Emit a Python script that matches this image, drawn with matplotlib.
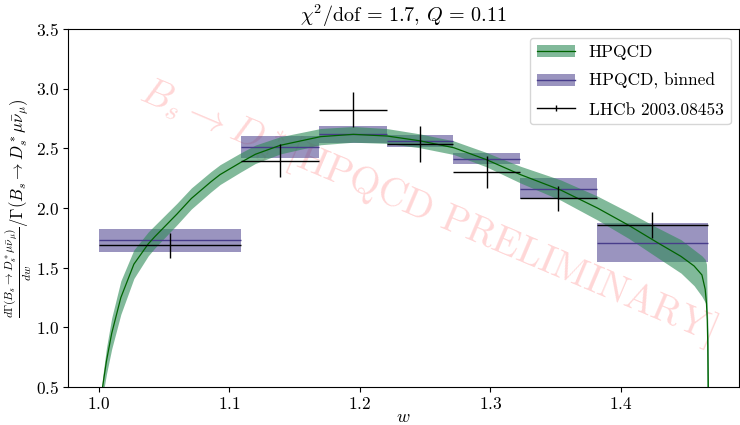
import matplotlib
matplotlib.use("Agg")
import matplotlib.pyplot as plt
from matplotlib.patches import Patch
from matplotlib.lines import Line2D
import numpy as np

plt.rcParams["font.family"] = "serif"
plt.rcParams["font.serif"] = ["cmr10"]
plt.rcParams["mathtext.fontset"] = "cm"
plt.rcParams["axes.formatter.use_mathtext"] = True
plt.rcParams["axes.unicode_minus"] = False

# HPQCD continuous prediction
w_fit = [1.0000, 1.0010, 1.0030, 1.0060, 1.0100, 1.0170, 1.0270, 1.0380, 1.0430,
         1.0600, 1.0710, 1.0860, 1.0930, 1.1085, 1.1200, 1.1390, 1.1700, 1.1950,
         1.2210, 1.2460, 1.2720, 1.2970, 1.3230, 1.3540, 1.3820, 1.4060, 1.4280,
         1.4460, 1.4560, 1.4620, 1.4645, 1.4655, 1.4657, 1.4661, 1.4665, 1.4669, 1.4672]
fit_mid = [0.00, 0.29, 0.50, 0.72, 0.95, 1.25, 1.53, 1.70, 1.76,
           1.95, 2.08, 2.22, 2.28, 2.38, 2.45, 2.525, 2.598, 2.617,
           2.603, 2.563, 2.505, 2.405, 2.280, 2.150, 2.000, 1.855, 1.710,
           1.595, 1.515, 1.440, 1.320, 1.200, 1.150, 1.060, 0.850, 0.500, 0.000]
fit_lo = [0.00, 0.24, 0.42, 0.61, 0.82, 1.11, 1.41, 1.60, 1.665,
          1.86, 1.992, 2.135, 2.197, 2.30, 2.373, 2.453, 2.53, 2.551,
          2.541, 2.505, 2.448, 2.345, 2.21, 2.065, 1.90, 1.745, 1.585,
          1.455, 1.35, 1.26, 1.21, 1.17, 0.00, 0.00, 0.00, 0.00, 0.00]
fit_hi = [0.00, 0.34, 0.58, 0.83, 1.08, 1.39, 1.65, 1.80, 1.855,
          2.04, 2.168, 2.305, 2.363, 2.46, 2.527, 2.597, 2.666, 2.683,
          2.665, 2.621, 2.562, 2.465, 2.35, 2.235, 2.10, 1.965, 1.835,
          1.735, 1.65, 1.60, 1.57, 1.53, 1.45, 1.17, 1.05, 0.90, 0.00]

# bins in w
bin_edges = [1.0, 1.1087, 1.1688, 1.2212, 1.2717, 1.3226, 1.3814, 1.4667]

# HPQCD binned
hpqcd_bin = [1.729, 2.511, 2.617, 2.561, 2.411, 2.162, 1.708]
hpqcd_bin_err = [0.095, 0.095, 0.070, 0.047, 0.046, 0.089, 0.163]

# LHCb 2003.08453
lhcb = [1.687, 2.397, 2.825, 2.537, 2.302, 2.080, 1.855]
lhcb_err = [0.107, 0.137, 0.145, 0.150, 0.134, 0.105, 0.109]

edges = np.array(bin_edges)
mids = 0.5 * (edges[1:] + edges[:-1])
halfw = 0.5 * (edges[1:] - edges[:-1])

green = "seagreen"
purple = "darkslateblue"

fig = plt.figure(figsize=(7.4, 4.25), dpi=100)
ax = fig.add_axes([0.092, 0.089, 0.907, 0.843])

ax.bar(mids, 2 * np.array(hpqcd_bin_err), bottom=np.array(hpqcd_bin) - np.array(hpqcd_bin_err),
       width=2 * halfw, color=purple, alpha=0.55, lw=0, zorder=1)
ax.hlines(hpqcd_bin, edges[:-1], edges[1:], color=purple, lw=1, zorder=3)

ax.fill_between(w_fit, fit_lo, fit_hi, color=green, alpha=0.6, lw=0, zorder=2)
ax.plot(w_fit, fit_mid, color="darkgreen", lw=0.9, zorder=3)

ax.errorbar(mids, lhcb, xerr=halfw, yerr=lhcb_err, fmt="none", ecolor="k",
            elinewidth=1, zorder=4)

ax.text(0.535, 0.49, r"$B_s \to D_s^*$[HPQCD PRELIMINARY]", transform=ax.transAxes,
        fontsize=28, color="red", alpha=0.16, rotation=-23, ha="center", va="center",
        rotation_mode="anchor", zorder=0)

ax.set_xlim(0.9766, 1.4906)
ax.set_ylim(0.5, 3.5)
ax.set_xticks([1.0, 1.1, 1.2, 1.3, 1.4])
ax.set_yticks([0.5, 1.0, 1.5, 2.0, 2.5, 3.0, 3.5])
ax.tick_params(labelsize=12.5, pad=3)

ax.set_xlabel(r"$w$", fontsize=13, labelpad=-2)
ax.set_ylabel(r"$\frac{d\Gamma(B_s\to D_s^*\mu\bar{\nu}_\mu)}{dw}/\Gamma(B_s\to D_s^*\mu\bar{\nu}_\mu)$",
              fontsize=12, labelpad=1)
ax.set_title(r"$\chi^2/\mathrm{dof}\,=\,1.7$, $Q\,=\,0.11$", fontsize=14.5, pad=3)

h_fit = (Patch(facecolor=green, alpha=0.6, lw=0), Line2D([], [], color="darkgreen", lw=0.9))
h_bin = (Patch(facecolor=purple, alpha=0.55, lw=0), Line2D([], [], color=purple, lw=1))
h_lhcb = Line2D([], [], color="k", lw=1, marker="|", markersize=4, markeredgewidth=1)
ax.legend([h_fit, h_bin, h_lhcb], ["HPQCD", "HPQCD, binned", "LHCb 2003.08453"],
          loc="upper right", fontsize=12.5, labelspacing=0.75, handlelength=2.2)

fig.savefig("out.png", dpi=100)
